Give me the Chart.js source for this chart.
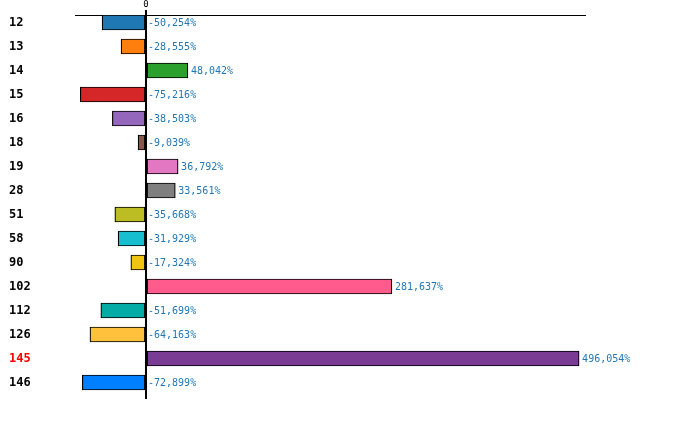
<!DOCTYPE html>
<html>
<head>
<meta charset="utf-8">
<script src="https://cdn.jsdelivr.net/npm/chart.js@4/dist/chart.umd.min.js"></script>
<style>
  html, body { margin: 0; padding: 0; background: #fff; }
  #wrap { width: 700px; height: 429px; }
</style>
</head>
<body>
<div id="wrap"><canvas id="graphCanvas"></canvas></div>
<script>
// categories and values
var categories = ['12', '13', '14', '15', '16', '18', '19', '28', '51', '58', '90', '102', '112', '126', '145', '146'];
var changes = [-50.254, -28.555, 48.042, -75.216, -38.503, -9.039, 36.792, 33.561,
               -35.668, -31.929, -17.324, 281.637, -51.699, -64.163, 496.054, -72.899];
var barColors = ['#1f77b4', '#ff7f0e', '#2ca02c', '#d62728', '#9467bd', '#8c564b', '#e377c2', '#7f7f7f',
                 '#bcbd22', '#17becf', '#f1c40f', '#ff5c8d', '#02aba5', '#ffc13b', '#7a3b94', '#007fff'];
var xTicks = [0];
var highlighted = '145';

function fmt(v) {
    return v.toFixed(3).replace('.', ',') + '%';
}

var valueLabels = {
    id: 'valueLabels',
    afterDatasetsDraw: function(chart) {
        var ctx = chart.ctx;
        var meta = chart.getDatasetMeta(0);
        ctx.save();
        ctx.font = '10px "DejaVu Sans Mono", monospace';
        ctx.fillStyle = '#1f77b4';
        ctx.textAlign = 'left';
        ctx.textBaseline = 'middle';
        meta.data.forEach(function(bar, i) {
            var v = changes[i];
            var x = v < 0 ? bar.base + 3 : bar.x + 3;
            ctx.fillText(fmt(v), x, bar.y + 1);
        });
        ctx.restore();
    }
};

var points = [];
for (var i in changes) {
    points.push({ x: changes[i], y: Number(i) });
}

var chartdata = {
    datasets: [{
        data: points,
        backgroundColor: barColors,
        borderColor: '#000',
        borderWidth: 1.2,
        borderSkipped: false,
        barThickness: 15
    }]
};

new Chart(document.getElementById('graphCanvas'), {
    type: 'bar',
    data: chartdata,
    plugins: [valueLabels],
    options: {
        indexAxis: 'y',
        responsive: true,
        maintainAspectRatio: false,
        animation: false,
        layout: { padding: { left: 9, right: 115, top: 0, bottom: 30 } },
        plugins: { legend: { display: false }, tooltip: { enabled: false } },
        scales: {
            x: {
                type: 'linear',
                position: 'top',
                min: -81.3,
                max: 502.8,
                afterBuildTicks: function(scale) {
                    scale.ticks = xTicks.map(function(v) { return { value: v }; });
                },
                afterFit: function(scale) { scale.height = 15; },
                border: { display: true, color: '#000', width: 1 },
                grid: { color: '#000', lineWidth: 2, tickLength: 5, drawOnChartArea: true },
                ticks: {
                    padding: 0,
                    color: '#000',
                    font: { family: '"DejaVu Sans Mono", monospace', size: 9 }
                }
            },
            y: {
                type: 'linear',
                reverse: true,
                offset: false,
                min: -0.3125,
                max: categories.length - 0.3125,
                afterBuildTicks: function(scale) {
                    scale.ticks = categories.map(function(c, i) { return { value: i }; });
                },
                afterFit: function(scale) { scale.width = 66; },
                border: { display: false },
                grid: { display: false },
                ticks: {
                    crossAlign: 'far',
                    padding: 0,
                    callback: function(v) { return categories[v]; },
                    color: function(ctx) {
                        return categories[ctx.tick.value] === highlighted ? '#ff0000' : '#000';
                    },
                    font: { family: '"DejaVu Sans Mono", monospace', size: 12, weight: 'bold' }
                }
            }
        }
    }
});
</script>
</body>
</html>
